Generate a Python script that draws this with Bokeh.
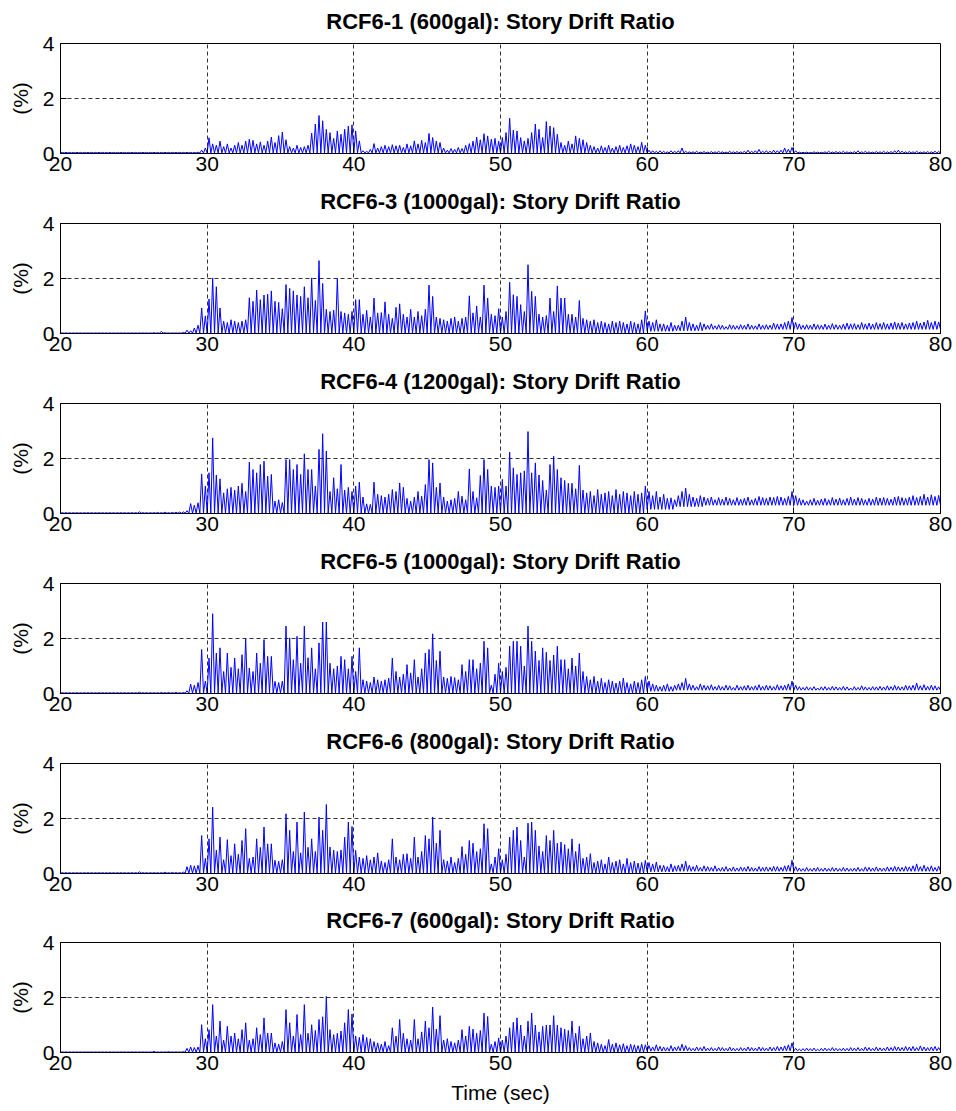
import numpy as np
from bokeh.plotting import figure
from bokeh.layouts import column
from bokeh.models import Range1d, FixedTicker
from bokeh.embed import file_html
from bokeh.resources import INLINE

# ---------------- data ----------------
titles = [
    "RCF6-1 (600gal): Story Drift Ratio",
    "RCF6-3 (1000gal): Story Drift Ratio",
    "RCF6-4 (1200gal): Story Drift Ratio",
    "RCF6-5 (1000gal): Story Drift Ratio",
    "RCF6-6 (800gal): Story Drift Ratio",
    "RCF6-7 (600gal): Story Drift Ratio",
]
x_ticks = [20, 30, 40, 50, 60, 70, 80]
y_ticks = [0, 2, 4]
x_grid = [30, 40, 50, 60, 70]
y_grid = [2]
x_label = "Time (sec)"
y_label = "(%)"

t_start = 20.0      # s, first sample bin
bin_width = 0.25    # s, one peak value per bin
floor_width = 2.0   # s, one trough level per floor bin

# peak story drift (%) per 0.25 s bin, 20 s .. 80 s (two seconds per row)
drift_rcf6_1 = [
    .04, .04, .04, .04, .04, .04, .04, .04,
    .04, .04, .04, .04, .04, .04, .04, .04,
    .04, .04, .04, .04, .04, .04, .04, .04,
    .04, .04, .04, .04, .04, .04, .04, .04,
    .04, .04, .04, .04, .04, .05, .12, .20,
    .57, .35, .30, .45, .25, .35, .20, .30,
    .40, .30, .45, .52, .48, .35, .42, .30,
    .45, .60, .40, .65, .78, .50, .25, .20,
    .30, .22, .25, .30, .74, 1.07, 1.38, 1.19,
    .88, .76, .55, .82, .70, .88, 1.00, 1.04,
    .82, .46, .10, .08, .15, .36, .20, .25,
    .30, .25, .32, .28, .30, .22, .35, .28,
    .46, .35, .48, .40, .73, .58, .45, .40,
    .20, .12, .18, .15, .22, .18, .30, .36,
    .45, .60, .50, .72, .64, .52, .55, .45,
    .58, .76, 1.28, .85, .82, .58, .46, .55,
    .76, 1.07, .88, .58, 1.16, 1.00, .94, .70,
    .40, .30, .45, .35, .64, .55, .50, .40,
    .30, .25, .20, .28, .22, .30, .20, .25,
    .30, .22, .28, .35, .30, .25, .41, .30,
    .12, .10, .08, .10, .08, .06, .10, .08,
    .10, .20, .08, .06, .06, .08, .05, .07,
    .05, .07, .06, .08, .06, .05, .08, .06,
    .07, .06, .08, .12, .08, .10, .15, .08,
    .10, .08, .12, .10, .12, .20, .15, .22,
    .10, .05, .04, .05, .04, .06, .05, .04,
    .06, .08, .05, .07, .06, .08, .06, .05,
    .07, .10, .06, .08, .06, .05, .07, .06,
    .08, .06, .07, .10, .12, .08, .06, .07,
    .06, .08, .05, .06, .07, .06, .08, .07,
]
drift_rcf6_3 = [
    .02, .02, .02, .02, .02, .02, .02, .02,
    .02, .02, .02, .02, .02, .02, .02, .02,
    .02, .02, .02, .02, .02, .02, .02, .02,
    .02, .03, .02, .08, .03, .02, .02, .02,
    .02, .04, .12, .10, .20, .30, .93, .64,
    1.25, 2.02, 1.70, .93, .45, .40, .50, .45,
    .40, .45, .50, 1.30, 1.17, 1.58, 1.23, 1.40,
    1.43, 1.55, 1.17, 1.13, .90, 1.78, 1.64, 1.55,
    1.40, 1.35, 1.70, 1.30, 2.02, 1.20, 2.65, 1.82,
    .88, .80, .85, 2.00, .80, .75, .70, .80,
    1.23, 1.23, .70, .84, .60, 1.29, .75, .76,
    1.15, .70, .55, .95, 1.08, .70, .60, .88,
    .60, .80, .65, .88, 1.76, 1.35, .60, .55,
    .50, .45, .55, .60, .45, .55, .60, 1.37,
    .75, 1.00, .60, 1.76, 1.29, .70, .65, .90,
    .60, .80, 1.86, 1.41, 1.35, 1.05, .80, 2.50,
    1.53, 1.35, .70, .60, .65, 1.29, .80, 1.73,
    1.29, 1.29, .70, .70, .60, 1.20, .55, .50,
    .45, .50, .40, .45, .40, .35, .45, .40,
    .45, .40, .35, .45, .40, .35, .50, .82,
    .45, .40, .50, .35, .35, .30, .40, .30,
    .30, .45, .60, .40, .35, .30, .40, .35,
    .30, .35, .28, .32, .30, .25, .32, .30,
    .28, .32, .30, .35, .30, .28, .35, .30,
    .32, .30, .38, .34, .35, .40, .45, .58,
    .40, .35, .30, .32, .30, .35, .32, .30,
    .34, .30, .36, .32, .30, .34, .38, .35,
    .36, .32, .40, .35, .38, .34, .40, .36,
    .40, .35, .38, .42, .38, .40, .35, .38,
    .40, .45, .38, .42, .48, .40, .45, .42,
]
drift_rcf6_4 = [
    .03, .03, .03, .03, .03, .03, .03, .03,
    .03, .03, .03, .03, .03, .03, .03, .03,
    .03, .03, .03, .03, .03, .06, .03, .03,
    .03, .03, .04, .03, .05, .03, .04, .05,
    .05, .06, .10, .36, .30, .39, 1.44, 1.00,
    1.48, 2.75, 1.40, 1.26, .75, .90, .95, .85,
    1.00, 1.10, .80, 1.87, 1.60, 1.48, 1.78, 1.90,
    1.36, 1.42, .45, .50, .40, 1.96, 1.96, 1.60,
    1.78, 1.42, 2.17, 1.60, 1.60, 1.00, 2.33, 2.90,
    2.27, .80, 1.30, .90, 1.78, .85, .95, .80,
    1.00, 1.14, .60, .35, .33, 1.14, .70, .65,
    .60, .70, .87, .80, 1.11, .95, .55, .45,
    .60, .80, .63, 1.05, 1.96, 1.84, .95, 1.11,
    .60, .45, .50, .55, .80, .63, .50, 1.62,
    .80, .57, 1.38, 1.96, 1.60, 1.00, .95, 1.00,
    1.24, 1.00, 2.23, 1.66, 1.42, 1.48, 1.55, 2.98,
    1.48, 1.84, 1.40, 1.20, .85, 1.78, 2.08, 1.60,
    1.30, 1.20, 1.10, 1.10, .90, 1.75, .85, .75,
    .80, .65, .87, .70, .75, .80, .65, .87,
    .70, .80, .75, .65, .80, .70, .75, 1.00,
    .80, .65, .80, .60, .70, .55, .57, .50,
    .65, .80, .92, .70, .60, .55, .65, .60,
    .55, .60, .50, .58, .52, .60, .55, .50,
    .58, .52, .55, .60, .50, .55, .62, .58,
    .55, .60, .58, .62, .60, .55, .62, .80,
    .65, .55, .50, .45, .50, .55, .48, .52,
    .55, .50, .58, .52, .56, .50, .55, .60,
    .52, .58, .55, .50, .55, .52, .60, .56,
    .58, .55, .52, .60, .62, .58, .55, .60,
    .65, .58, .62, .70, .60, .68, .62, .66,
]
drift_rcf6_5 = [
    .03, .03, .03, .03, .03, .03, .03, .03,
    .03, .03, .03, .03, .03, .03, .03, .03,
    .03, .03, .03, .03, .03, .05, .03, .03,
    .03, .03, .03, .04, .03, .04, .03, .04,
    .03, .04, .10, .34, .30, .40, 1.60, .45,
    1.29, 2.90, 1.47, 1.66, .80, 1.47, .95, 1.29,
    .90, 1.41, 1.99, .93, .80, 1.47, 1.10, 1.96,
    1.35, 1.35, .44, .40, .45, 2.45, 2.02, 1.23,
    2.08, 1.10, 2.45, 1.30, 1.66, .90, 1.84, 2.60,
    2.60, 1.10, .90, 1.00, 1.35, 1.23, .90, 1.35,
    .80, 1.66, .50, .45, .40, .60, .50, .45,
    .50, .56, 1.29, .80, .60, .70, 1.05, .75,
    1.23, .60, .90, 1.47, 1.60, 2.17, 1.20, 1.54,
    .60, .55, .62, .58, .50, 1.05, .80, 1.23,
    1.23, .90, 1.10, 1.90, 1.66, .30, .70, 1.10,
    .80, .95, 1.72, 1.90, 1.90, 1.72, 1.00, 2.45,
    1.90, 1.54, 1.20, 1.66, 1.50, 1.20, 1.40, 1.72,
    1.23, 1.23, .90, 1.29, 1.00, 1.47, .80, .62,
    .50, .62, .45, .55, .40, .50, .45, .38,
    .45, .56, .40, .35, .45, .40, .50, .62,
    .45, .35, .30, .25, .30, .35, .25, .30,
    .35, .40, .55, .35, .30, .25, .35, .30,
    .28, .32, .25, .30, .25, .30, .28, .22,
    .30, .25, .28, .30, .25, .28, .32, .26,
    .30, .28, .25, .32, .28, .30, .35, .45,
    .30, .25, .22, .25, .22, .25, .20, .24,
    .25, .22, .26, .24, .22, .26, .24, .20,
    .25, .22, .28, .24, .22, .25, .24, .26,
    .24, .28, .25, .30, .26, .24, .30, .28,
    .30, .38, .28, .32, .26, .30, .28, .24,
]
drift_rcf6_6 = [
    .03, .03, .03, .03, .03, .03, .03, .03,
    .03, .03, .03, .03, .03, .03, .03, .03,
    .03, .03, .03, .03, .03, .06, .03, .03,
    .03, .03, .03, .03, .05, .03, .04, .03,
    .03, .05, .25, .30, .28, .30, 1.38, .55,
    1.26, 2.41, .85, 1.32, .50, 1.23, .65, 1.08,
    .70, 1.20, 1.63, .55, .60, 1.26, .95, 1.69,
    1.08, 1.08, .48, .45, .50, 2.17, 1.57, .80,
    1.87, .75, 2.23, .95, 1.26, .80, 2.05, 1.57,
    2.51, .96, .85, .80, .85, 1.32, 1.87, 1.71,
    .84, .60, .55, .65, .50, .60, .75, .45,
    .40, .50, 1.26, .60, .50, .70, .72, .55,
    1.32, .60, .80, 1.38, 1.26, 2.05, 1.10, 1.57,
    .50, .45, .60, .40, .55, .98, .70, 1.20,
    1.10, .80, .90, 1.81, 1.63, .35, .60, .90,
    .50, .70, 1.32, 1.57, 1.69, 1.20, .60, 1.83,
    1.87, 1.57, 1.00, .80, 1.38, 1.20, 1.57, 1.10,
    1.14, 1.05, .90, 1.26, .80, 1.08, .55, .60,
    .72, .40, .45, .50, .35, .60, .40, .45,
    .50, .35, .55, .40, .45, .38, .40, .48,
    .40, .35, .42, .30, .30, .25, .35, .28,
    .30, .35, .45, .30, .25, .30, .22, .28,
    .25, .22, .28, .20, .22, .25, .20, .24,
    .20, .24, .22, .26, .22, .20, .25, .22,
    .24, .22, .26, .25, .22, .28, .30, .48,
    .25, .20, .18, .22, .18, .20, .22, .18,
    .20, .18, .22, .20, .18, .22, .20, .18,
    .20, .22, .18, .24, .22, .20, .24, .20,
    .20, .24, .22, .26, .24, .22, .26, .24,
    .28, .35, .25, .30, .24, .28, .22, .26,
]
drift_rcf6_7 = [
    .02, .02, .02, .02, .02, .02, .02, .02,
    .02, .02, .02, .02, .02, .02, .02, .02,
    .02, .02, .02, .02, .02, .02, .02, .02,
    .02, .04, .02, .02, .02, .03, .02, .02,
    .02, .03, .15, .20, .18, .20, 1.01, .50,
    .83, 1.74, .60, 1.14, .45, .95, .60, .71,
    .50, .83, 1.08, .45, .50, .90, .65, 1.26,
    .71, .71, .35, .30, .40, 1.56, 1.08, .60,
    1.38, .65, 1.74, .70, 1.01, .80, 1.20, 1.30,
    2.04, .83, .65, .70, .78, 1.08, 1.56, 1.40,
    .60, .55, .65, .55, .50, .40, .35, .30,
    .40, .25, .90, .60, 1.20, .70, .50, .45,
    1.20, .50, .75, 1.14, .90, 1.65, .85, 1.34,
    .45, .50, .40, .35, .45, .83, .60, .95,
    .85, .70, .80, 1.43, 1.31, .30, .40, .53,
    .45, .60, .90, 1.10, 1.26, 1.00, .60, 1.14,
    1.43, 1.00, .75, .95, 1.00, 1.00, 1.34, 1.00,
    .90, .85, .80, 1.14, .70, .95, .50, .60,
    .71, .40, .35, .30, .25, .47, .30, .35,
    .28, .32, .25, .30, .28, .25, .30, .28,
    .25, .20, .28, .22, .20, .18, .25, .20,
    .22, .30, .25, .18, .15, .20, .18, .22,
    .16, .18, .15, .20, .18, .15, .20, .16,
    .15, .18, .16, .20, .18, .16, .20, .18,
    .16, .20, .18, .22, .20, .24, .28, .35,
    .15, .12, .14, .16, .14, .16, .12, .15,
    .16, .14, .18, .15, .14, .16, .15, .18,
    .16, .18, .15, .20, .18, .15, .20, .17,
    .16, .20, .18, .22, .20, .18, .22, .20,
    .22, .18, .24, .20, .18, .20, .22, .18,
]

# trough level (%) between peaks, per 2 s bin, 20 s .. 80 s
floor_rcf6_1 = [.02, .02, .02, .02, .02, .02, .02, .02, .02, .02,
                .02, .02, .02, .02, .02, .02, .02, .02, .02, .02,
                .02, .02, .02, .02, .02, .02, .02, .02, .02, .02]
floor_rcf6_3 = [.01, .01, .01, .01, .01, .01, .01, .01, .01, .01,
                .01, .01, .01, .01, .01, .01, .01, .01, .01, .01,
                .08, .10, .15, .15, .15, .15, .15, .15, .15, .15]
floor_rcf6_4 = [.01, .01, .01, .01, .01, .01, .01, .01, .01, .01,
                .01, .01, .01, .01, .01, .01, .01, .01, .01, .01,
                .15, .25, .30, .30, .30, .30, .30, .30, .30, .30]
floor_rcf6_5 = [.01, .01, .01, .01, .01, .01, .01, .01, .01, .01,
                .01, .01, .01, .01, .01, .01, .01, .01, .01, .01,
                .08, .12, .12, .12, .12, .12, .12, .12, .12, .12]
floor_rcf6_6 = [.01, .01, .01, .01, .01, .01, .01, .01, .01, .01,
                .01, .01, .01, .01, .01, .01, .01, .01, .01, .01,
                .06, .08, .08, .08, .08, .08, .08, .08, .08, .08]
floor_rcf6_7 = [.01, .01, .01, .01, .01, .01, .01, .01, .01, .01,
                .01, .01, .01, .01, .01, .01, .01, .01, .01, .01,
                .05, .06, .06, .06, .06, .06, .06, .06, .06, .06]

series = [
    (drift_rcf6_1, floor_rcf6_1),
    (drift_rcf6_3, floor_rcf6_3),
    (drift_rcf6_4, floor_rcf6_4),
    (drift_rcf6_5, floor_rcf6_5),
    (drift_rcf6_6, floor_rcf6_6),
    (drift_rcf6_7, floor_rcf6_7),
]


def vertices(peaks, floors):
    ts, vs = [], []
    for i, pk in enumerate(peaks):
        t0 = t_start + i * bin_width
        fl = floors[min(int(i * bin_width / floor_width), len(floors) - 1)]
        ts += [t0, t0 + bin_width / 2]
        vs += [fl, pk]
    ts.append(t_start + len(peaks) * bin_width)
    vs.append(floors[-1])
    return np.array(ts), np.array(vs)


# ---------------- styling ----------------
FONT = "Liberation Sans"
GRID_COLOR = "#333333"
LINE_COLOR = "#0000FF"
TICK_SIZE = "21px"
TITLE_SIZE = "22px"

figs = []
n = len(titles)
for k, (title, (pk, fl)) in enumerate(zip(titles, series)):
    last = (k == n - 1)
    p = figure(
        frame_width=880, frame_height=110,
        x_range=Range1d(20, 80), y_range=Range1d(0, 4),
        output_backend="svg", toolbar_location=None, title=title,
        min_border_left=60, min_border_right=16,
        min_border_top=42 if last else 43,
        min_border_bottom=59 if last else 27,
        background_fill_color="white", border_fill_color="white",
    )
    p.title.align = "center"
    p.title.vertical_align = "top"
    p.title.text_font = FONT
    p.title.text_font_size = TITLE_SIZE
    p.title.text_font_style = "bold"
    p.title.text_color = "black"
    p.title.standoff = 15 if last else 16

    p.outline_line_color = "black"
    p.outline_line_width = 1
    p.outline_line_alpha = 1.0

    for ax in (p.xaxis[0], p.yaxis[0]):
        ax.axis_line_color = "black"
        ax.major_tick_line_color = "black"
        ax.major_tick_in = 6
        ax.major_tick_out = 0
        ax.minor_tick_line_color = None
        ax.major_label_text_font = FONT
        ax.major_label_text_font_size = TICK_SIZE
        ax.major_label_text_color = "black"
        ax.axis_label_text_font = FONT
        ax.axis_label_text_font_size = TICK_SIZE
        ax.axis_label_text_font_style = "normal"
        ax.axis_label_text_color = "black"

    p.xaxis.ticker = FixedTicker(ticks=x_ticks)
    p.yaxis.ticker = FixedTicker(ticks=y_ticks)
    p.xaxis.major_label_standoff = 3
    p.yaxis.major_label_standoff = 6
    p.yaxis.axis_label = y_label
    p.yaxis.axis_label_standoff = 8
    if last:
        p.xaxis.axis_label = x_label
        p.xaxis.axis_label_standoff = 8

    p.xgrid.ticker = FixedTicker(ticks=x_grid)
    p.ygrid.ticker = FixedTicker(ticks=y_grid)
    for g in (p.xgrid[0], p.ygrid[0]):
        g.grid_line_color = GRID_COLOR
        g.grid_line_dash = "4 3"
        g.grid_line_width = 1
        g.grid_line_alpha = 1.0

    ts, vs = vertices(pk, fl)
    p.line(ts, vs, line_color=LINE_COLOR, line_width=1)
    figs.append(p)

layout = column(*figs, spacing=0)
open("out.html", "w").write(file_html(layout, INLINE))
